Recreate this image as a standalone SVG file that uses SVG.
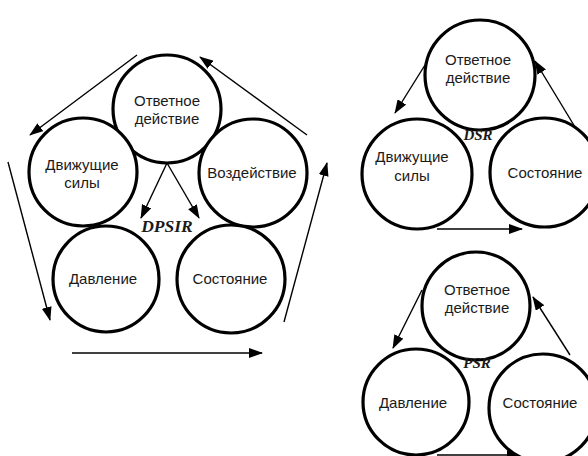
<svg xmlns="http://www.w3.org/2000/svg" width="588" height="456" viewBox="0 0 588 456">
<defs>
<marker id="ah" markerWidth="14" markerHeight="10" refX="13" refY="5" orient="auto" markerUnits="userSpaceOnUse">
<path d="M0,0 L14,5 L0,10 z" fill="#000"/>
</marker>
<style>
.c{fill:#fff;stroke:#000;stroke-width:3.2}
.t{font-family:"Liberation Sans",Arial,sans-serif;font-size:15px;fill:#1a1a1a;text-anchor:middle}
.l{font-family:"Liberation Serif","Times New Roman",serif;font-weight:bold;font-style:italic;fill:#1a1a1a;text-anchor:middle}
.a{stroke:#000;stroke-width:1.4;fill:none;marker-end:url(#ah)}
</style>
</defs>
<rect width="588" height="456" fill="#fff"/>
<g id="connectors">
<line class="a" x1="137" y1="55" x2="30" y2="135"/>
<line class="a" x1="307" y1="135" x2="200" y2="57"/>
<line class="a" x1="8" y1="162" x2="50" y2="320"/>
<line class="a" x1="284" y1="322" x2="327" y2="163"/>
<line class="a" x1="72" y1="353" x2="262" y2="353"/>
<line class="a" x1="167" y1="163" x2="141" y2="218"/>
<line class="a" x1="167" y1="163" x2="199" y2="218"/>
<line class="a" x1="425" y1="65" x2="395" y2="113"/>
<line class="a" x1="575" y1="127" x2="535" y2="61"/>
<line class="a" x1="437" y1="229" x2="522" y2="229"/>
<line class="a" x1="422" y1="290" x2="393" y2="348"/>
<line class="a" x1="570" y1="355" x2="533" y2="297"/>
<line class="a" x1="437" y1="455" x2="520" y2="455"/>
</g>
<g id="dpsir">
<g id="n-response"><circle class="c" cx="167" cy="109" r="54"/><text class="t" x="167" y="106">Ответное</text><text class="t" x="167" y="124">действие</text></g>
<g id="n-drivers"><circle class="c" cx="83" cy="172" r="54"/><text class="t" x="82" y="170">Движущие</text><text class="t" x="82" y="188">силы</text></g>
<g id="n-impact"><circle class="c" cx="253" cy="173" r="54"/><text class="t" x="252" y="178">Воздействие</text></g>
<g id="n-pressure"><circle class="c" cx="106" cy="279" r="53"/><text class="t" x="103" y="284">Давление</text></g>
<g id="n-state"><circle class="c" cx="231" cy="279" r="54"/><text class="t" x="230" y="284">Состояние</text></g>
<text class="l" x="167" y="232" font-size="17.5">DPSIR</text>
</g>
<g id="dsr">
<g id="n-dsr-response"><circle class="c" cx="480" cy="75" r="55"/><text class="t" x="478" y="65">Ответное</text><text class="t" x="478" y="83">действие</text></g>
<g id="n-dsr-drivers"><circle class="c" cx="417" cy="174" r="55"/><text class="t" x="412" y="162">Движущие</text><text class="t" x="412" y="181">силы</text></g>
<g id="n-dsr-state"><circle class="c" cx="544.5" cy="172.5" r="54.5"/><text class="t" x="545" y="178">Состояние</text></g>
<text class="l" x="478" y="140" font-size="15">DSR</text>
</g>
<g id="psr">
<g id="n-psr-response"><circle class="c" cx="476" cy="306" r="54"/><text class="t" x="477" y="295">Ответное</text><text class="t" x="477" y="313">действие</text></g>
<g id="n-psr-pressure"><circle class="c" cx="416" cy="402" r="53"/><text class="t" x="413" y="408">Давление</text></g>
<g id="n-psr-state"><circle class="c" cx="543" cy="408" r="54"/><text class="t" x="540" y="408">Состояние</text></g>
<text class="l" x="477" y="368" font-size="15">PSR</text>
</g>
</svg>
